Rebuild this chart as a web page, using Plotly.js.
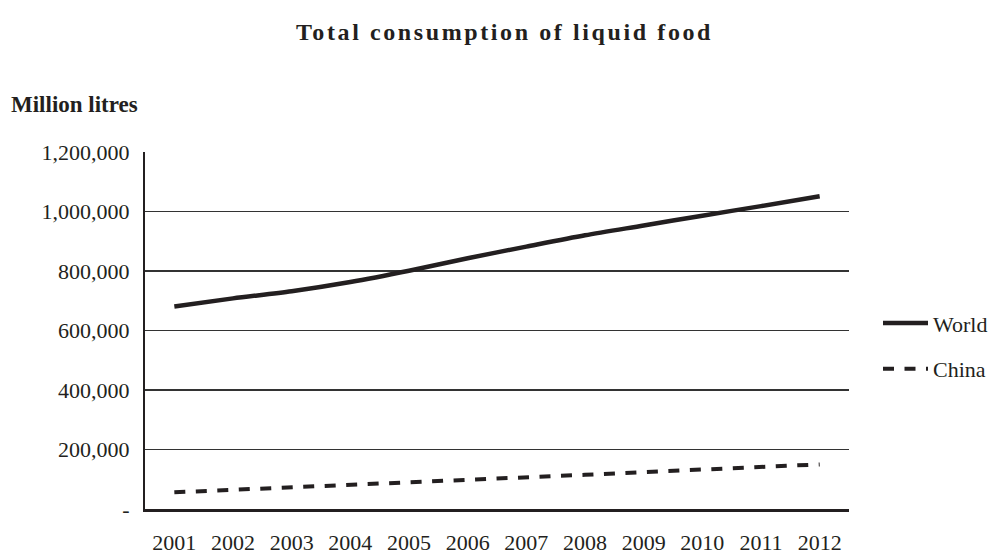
<!DOCTYPE html>
<html>
<head>
<meta charset="utf-8">
<script src="https://cdn.plot.ly/plotly-3.0.1.min.js"></script>
<style>
  html, body { margin: 0; padding: 0; background: #fff; }
  #chart { width: 995px; height: 554px; }
  .gtitle { letter-spacing: 2.6px; }
</style>
</head>
<body>
<div id="chart"></div>
<script>
const years = ['2001','2002','2003','2004','2005','2006','2007','2008','2009','2010','2011','2012'];
const worldValues = [681000, 708000, 732000, 763000, 801000, 843000, 882000, 920000, 953000, 986000, 1018000, 1051000];
const chinaValues = [56000, 64000, 72000, 80000, 88000, 97000, 106000, 115000, 124000, 133000, 142000, 150000];
const yTickVals = [0, 200000, 400000, 600000, 800000, 1000000, 1200000];
const yTickText = ['-', '200,000', '400,000', '600,000', '800,000', '1,000,000', '1,200,000'];

const ink = '#231f20';
const fontFam = '"Liberation Serif", "Times New Roman", serif';

const traces = [
  {
    x: years, y: worldValues, name: 'World', type: 'scatter', mode: 'lines',
    line: { color: ink, width: 4.5, shape: 'spline', smoothing: 0.8 },
    legendgroup: 'w', hoverinfo: 'skip'
  },
  {
    x: years, y: chinaValues, name: 'China', type: 'scatter', mode: 'lines',
    line: { color: ink, width: 4, dash: '11px,10.5px' },
    legendgroup: 'c', hoverinfo: 'skip'
  }
];

const plotL = 145, plotR = 849, plotT = 151.5, plotB = 509;
const W = 995, H = 554;
const pw = plotR - plotL, ph = plotB - plotT;

const layout = {
  width: W, height: H,
  margin: { l: plotL, r: W - plotR, t: plotT, b: H - plotB, pad: 0, autoexpand: false },
  paper_bgcolor: '#fff', plot_bgcolor: '#fff',
  font: { family: fontFam, size: 22, color: ink },
  title: {
    text: '<b>Total consumption of liquid food</b>',
    font: { family: fontFam, size: 24, color: ink },
    x: 504.5 / W, xref: 'container', xanchor: 'center',
    y: 1 - 32 / H, yref: 'container', yanchor: 'middle'
  },
  xaxis: {
    type: 'category', range: [-0.5, 11.5],
    showgrid: false, zeroline: false,
    showline: true, linecolor: ink, linewidth: 3,
    ticks: 'outside', ticklen: 12, tickcolor: 'rgba(0,0,0,0)',
    tickfont: { family: fontFam, size: 22, color: ink },
    fixedrange: true
  },
  yaxis: {
    range: [0, 1200000],
    tickvals: yTickVals, ticktext: yTickText,
    showgrid: true, gridcolor: '#333', gridwidth: 1.2,
    zeroline: false,
    showline: true, linecolor: ink, linewidth: 2,
    ticks: 'outside', ticklen: 9, tickcolor: 'rgba(0,0,0,0)',
    tickfont: { family: fontFam, size: 22, color: ink },
    fixedrange: true
  },
  showlegend: true,
  legend: {
    x: (878 - plotL) / pw, xanchor: 'left',
    y: (plotB - 302) / ph, yanchor: 'top',
    font: { family: fontFam, size: 22, color: ink },
    itemwidth: 45,
    tracegroupgap: 14,
    bgcolor: 'rgba(0,0,0,0)', borderwidth: 0
  },
  annotations: [
    {
      text: '<b>Million litres</b>', showarrow: false,
      xref: 'paper', yref: 'paper',
      x: (9 - plotL) / pw, xanchor: 'left',
      y: (plotB - 104) / ph, yanchor: 'middle',
      font: { family: fontFam, size: 23, color: ink }
    }
  ]
};

Plotly.newPlot('chart', traces, layout, { displayModeBar: false, staticPlot: true });
</script>
</body>
</html>
